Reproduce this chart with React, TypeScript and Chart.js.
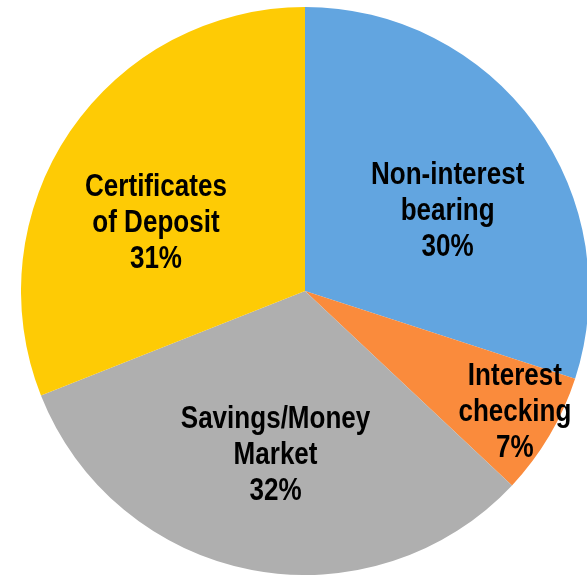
import React, { useEffect, useRef } from "react";
import { Chart, registerables } from "chart.js";

Chart.register(...registerables);

const categories: string[][] = [
  ["Non-interest", "bearing"],
  ["Interest", "checking"],
  ["Savings/Money", "Market"],
  ["Certificates", "of Deposit"],
];
const values: number[] = [30, 7, 32, 31];
const percentLabels: string[] = ["30%", "7%", "32%", "31%"];
const colors: string[] = ["#62A5E0", "#FA8B3C", "#AFAFAF", "#FECB05"];

// label placement (fraction of radius, angle offset in degrees)
const labelRadius = [0.58, 0.85, 0.58, 0.58];
const labelAngleOffset = [6, -1, -0.5, -9];

const FONT_SIZE = 31;
const X_SCALE = 0.84;
const LINE_H = 36;

const labelPlugin = {
  id: "sliceLabels",
  afterDatasetsDraw(chart: any) {
    const ctx = chart.ctx;
    const meta = chart.getDatasetMeta(0);
    ctx.save();
    ctx.font = `bold ${FONT_SIZE}px "Liberation Sans", Arial, sans-serif`;
    ctx.fillStyle = "#000";
    ctx.textAlign = "center";
    ctx.textBaseline = "alphabetic";
    const capH = FONT_SIZE * 0.716;
    meta.data.forEach((arc: any, i: number) => {
      const { x, y, startAngle, endAngle, outerRadius } = arc.getProps(
        ["x", "y", "startAngle", "endAngle", "outerRadius"],
        true
      );
      const mid = (startAngle + endAngle) / 2 + (labelAngleOffset[i] * Math.PI) / 180;
      const r = outerRadius * labelRadius[i];
      const cx = x + Math.cos(mid) * r;
      const cy = y + Math.sin(mid) * r;
      const lines = [...categories[i], percentLabels[i]];
      lines.forEach((ln, k) => {
        const base = cy + capH / 2 + (k - (lines.length - 1) / 2) * LINE_H;
        ctx.save();
        ctx.translate(cx, base);
        ctx.scale(X_SCALE, 1);
        ctx.fillText(ln, 0, 0);
        ctx.restore();
      });
    });
    ctx.restore();
  },
};

export default function App() {
  const ref = useRef<HTMLCanvasElement>(null);
  useEffect(() => {
    document.body.style.overflow = "hidden";
    const chart = new Chart(ref.current!, {
      type: "pie",
      data: {
        labels: categories.map((c) => c.join(" ")),
        datasets: [
          {
            data: values,
            backgroundColor: colors,
            borderWidth: 0,
          },
        ],
      },
      options: {
        responsive: false,
        animation: false,
        layout: { padding: 0 },
        plugins: {
          legend: { display: false },
          tooltip: { enabled: false },
        },
      },
      plugins: [labelPlugin],
    });
    return () => chart.destroy();
  }, []);
  return (
    <div style={{ position: "fixed", left: 21, top: 7, width: 568, height: 568 }}>
      <canvas ref={ref} width={568} height={568} style={{ width: 568, height: 568 }} />
    </div>
  );
}
